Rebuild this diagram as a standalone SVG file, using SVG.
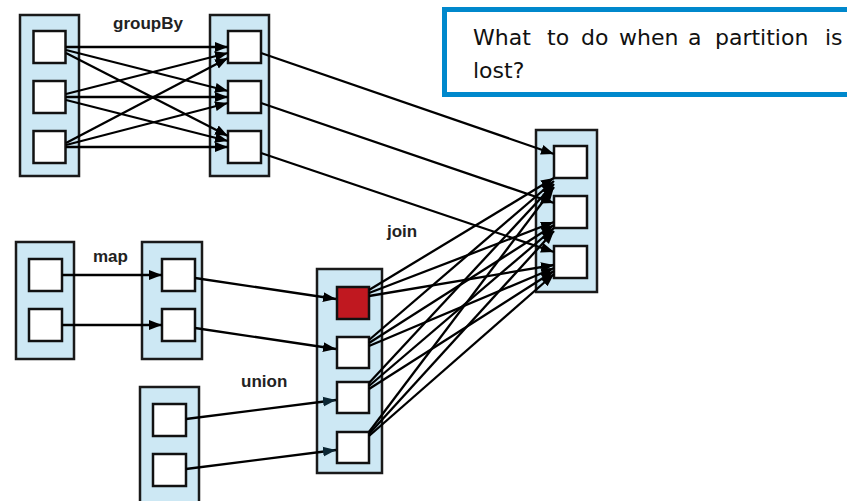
<svg xmlns="http://www.w3.org/2000/svg" width="847" height="501" viewBox="0 0 847 501">
<defs>
<style>
.cont{fill:#cde8f4;stroke:#1a1a1a;stroke-width:2.5}
.part{fill:#ffffff;stroke:#111;stroke-width:2.5}
.lost{fill:#c01820;stroke:#111;stroke-width:2.5}
.edge{fill:none;stroke:#000;stroke-width:2.3}
.lbl{font-family:"Liberation Sans",Arial,sans-serif;font-weight:bold;font-size:17px;fill:#222}
.q{font-family:"DejaVu Sans","Liberation Sans",sans-serif;font-size:22px;fill:#111}
</style>
<marker id="ah" markerUnits="userSpaceOnUse" markerWidth="14" markerHeight="12" refX="13" refY="6" orient="auto">
<path d="M0,1 L13,6 L0,11 Z" fill="#000"/>
</marker>
<marker id="ahn" markerUnits="userSpaceOnUse" markerWidth="14" markerHeight="12" refX="13" refY="6" orient="auto">
<path d="M0,1 L13,6 L0,11 Z" fill="#0b2633"/>
</marker>
</defs>
<rect x="0" y="0" width="847" height="501" fill="#ffffff"/>

<g id="question">
<rect x="444.5" y="9.5" width="410" height="85" fill="#ffffff" stroke="#0088cc" stroke-width="5"/>
<text class="q"><tspan x="473" y="45">What</tspan><tspan x="547" y="45">to</tspan><tspan x="581" y="45">do</tspan><tspan x="619" y="45">when</tspan><tspan x="688" y="45">a</tspan><tspan x="715" y="45">partition</tspan><tspan x="825" y="45">is</tspan><tspan x="473" y="78">lost?</tspan></text>
</g>

<g id="groupBy-src">
<rect class="cont" x="20" y="15" width="59" height="161"/>
<g id="gs1"><rect class="part" x="33.5" y="31" width="32" height="32"/></g>
<g id="gs2"><rect class="part" x="33.5" y="81" width="32" height="32"/></g>
<g id="gs3"><rect class="part" x="33.5" y="131" width="32" height="32"/></g>
</g>
<g id="groupBy-dst">
<rect class="cont" x="210" y="15" width="59" height="161"/>
<g id="gd1"><rect class="part" x="228" y="31" width="33" height="32"/></g>
<g id="gd2"><rect class="part" x="228" y="81" width="33" height="32"/></g>
<g id="gd3"><rect class="part" x="228" y="131" width="33" height="32"/></g>
</g>
<g id="final">
<rect class="cont" x="536" y="130" width="61" height="162"/>
<g id="f1"><rect class="part" x="554" y="146" width="33" height="32"/></g>
<g id="f2"><rect class="part" x="554" y="196" width="33" height="32"/></g>
<g id="f3"><rect class="part" x="554" y="246" width="33" height="32"/></g>
</g>
<g id="map-src">
<rect class="cont" x="16" y="242" width="58" height="117"/>
<g id="ms1"><rect class="part" x="29" y="259" width="33" height="32"/></g>
<g id="ms2"><rect class="part" x="29" y="309" width="33" height="32"/></g>
</g>
<g id="map-dst">
<rect class="cont" x="142" y="242" width="60" height="117"/>
<g id="md1"><rect class="part" x="162" y="259" width="33" height="32"/></g>
<g id="md2"><rect class="part" x="162" y="309" width="33" height="32"/></g>
</g>
<g id="join">
<rect class="cont" x="317" y="269" width="65" height="204"/>
<g id="j1"><rect class="lost" x="337" y="287" width="32" height="32"/></g>
<g id="j2"><rect class="part" x="337" y="337" width="32" height="31"/></g>
<g id="j3"><rect class="part" x="337" y="382" width="32" height="31"/></g>
<g id="j4"><rect class="part" x="337" y="432" width="32" height="31"/></g>
</g>
<g id="union-src">
<rect class="cont" x="140" y="387" width="59" height="130"/>
<g id="u1"><rect class="part" x="153" y="404" width="33" height="32"/></g>
<g id="u2"><rect class="part" x="153" y="454" width="33" height="32"/></g>
</g>

<g id="labels">
<text class="lbl" x="113" y="29">groupBy</text>
<text class="lbl" x="93" y="262">map</text>
<text class="lbl" x="387" y="237">join</text>
<text class="lbl" x="241" y="387">union</text>
</g>

<g id="connectors" class="edge" marker-end="url(#ah)">
<path d="M66,47 L228,47"/>
<path d="M66,50 L228,91"/>
<path d="M66,53 L228,136"/>
<path d="M66,94 L228,53"/>
<path d="M66,97 L228,97"/>
<path d="M66,100 L228,141"/>
<path d="M66,143 L228,58"/>
<path d="M66,145 L228,103"/>
<path d="M66,147 L228,147"/>
<path d="M261,53 L554,154"/>
<path d="M261,103 L554,203"/>
<path d="M261,153 L554,252"/>
<path d="M62,275 L162,275"/>
<path d="M62,325 L162,325"/>
<path d="M195,278 L336,299"/>
<path d="M195,328 L336,349"/>
<path d="M186,419 L336,400" marker-end="url(#ahn)"/>
<path d="M186,469 L336,450" marker-end="url(#ahn)"/>
<path d="M369,290 L554,178"/>
<path d="M369,293 L554,222"/>
<path d="M369,296 L554,265"/>
<path d="M369,340 L554,181"/>
<path d="M369,343 L554,225"/>
<path d="M369,346 L554,268"/>
<path d="M369,383 L554,184"/>
<path d="M369,386 L554,228"/>
<path d="M369,389 L554,271"/>
<path d="M369,432 L554,187"/>
<path d="M369,434 L554,231"/>
<path d="M369,436 L554,274"/>
</g>
</svg>
